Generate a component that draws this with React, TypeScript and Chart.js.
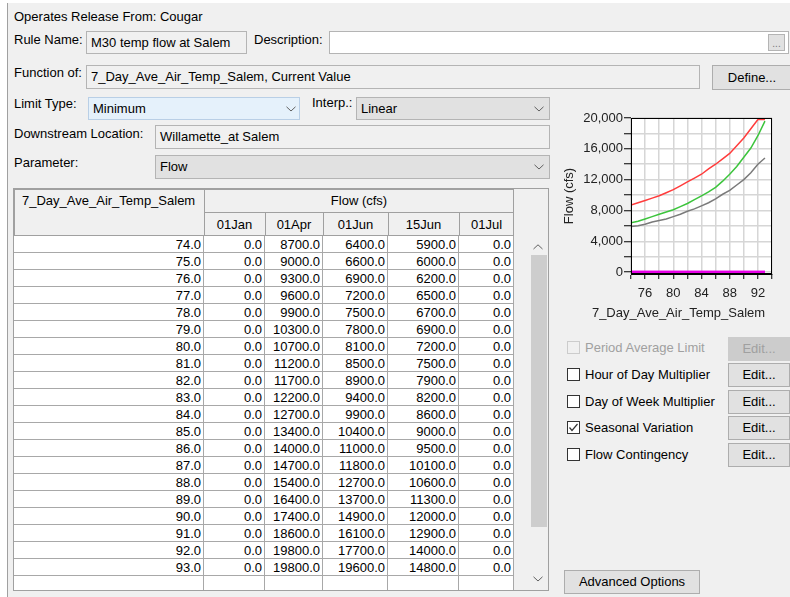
import React, { useEffect, useRef } from "react";
import { Chart, registerables } from "chart.js";
Chart.register(...registerables);

const temps = [74, 75, 76, 77, 78, 79, 80, 81, 82, 83, 84, 85, 86, 87, 88, 89, 90, 91, 92, 93];
const flowJan = [0, 0, 0, 0, 0, 0, 0, 0, 0, 0, 0, 0, 0, 0, 0, 0, 0, 0, 0, 0];
const flowApr = [8700, 9000, 9300, 9600, 9900, 10300, 10700, 11200, 11700, 12200, 12700, 13400, 14000, 14700, 15400, 16400, 17400, 18600, 19800, 19800];
const flowJun1 = [6400, 6600, 6900, 7200, 7500, 7800, 8100, 8500, 8900, 9400, 9900, 10400, 11000, 11800, 12700, 13700, 14900, 16100, 17700, 19600];
const flowJun15 = [5900, 6000, 6200, 6500, 6700, 6900, 7200, 7500, 7900, 8200, 8600, 9000, 9500, 10100, 10600, 11300, 12000, 12900, 14000, 14800];
const flowJul = [0, 0, 0, 0, 0, 0, 0, 0, 0, 0, 0, 0, 0, 0, 0, 0, 0, 0, 0, 0];
const seasonLabels = ["01Jan", "01Apr", "01Jun", "15Jun", "01Jul"];
const xTickValues = [74, 76, 78, 80, 82, 84, 86, 88, 90, 92, 94];
const yTickValues = [0, 2000, 4000, 6000, 8000, 10000, 12000, 14000, 16000, 18000, 20000];
const xAxisTitle = "7_Day_Ave_Air_Temp_Salem";
const yAxisTitle = "Flow (cfs)";

const FONT = "'Liberation Sans', Arial, sans-serif";

function MiniChart() {
  const ref = useRef<HTMLCanvasElement>(null);
  useEffect(() => {
    if (!ref.current) return;
    const font = { family: FONT, size: 13 };
    const mk = (label: string, data: number[], color: string, width: number, order: number) => ({
      label,
      data: temps.map((t, i) => ({ x: t, y: data[i] })),
      borderColor: color,
      backgroundColor: color,
      borderWidth: width,
      pointRadius: 0,
      tension: 0,
      fill: false,
      order,
    });
    const plotBg = {
      id: "plotBg",
      beforeDraw(c: any) {
        const { ctx, chartArea: a } = c;
        ctx.save();
        ctx.fillStyle = "#ffffff";
        ctx.fillRect(a.left, a.top, a.right - a.left, a.bottom - a.top);
        ctx.restore();
      },
    };
    const frame = {
      id: "frame",
      afterDraw(c: any) {
        const { ctx, chartArea: a } = c;
        ctx.save();
        ctx.strokeStyle = "#000";
        ctx.lineWidth = 1;
        ctx.strokeRect(Math.round(a.left) + 0.5, Math.round(a.top) + 0.5, Math.round(a.right - a.left) - 1, Math.round(a.bottom - a.top) - 1);
        ctx.font = `13px ${FONT}`;
        ctx.fillStyle = "#222";
        ctx.textAlign = "center";
        ctx.textBaseline = "middle";
        ctx.fillText(xAxisTitle, c.width / 2 + 6, c.height - 17);
        ctx.restore();
      },
    };
    const chart = new Chart(ref.current, {
      type: "line",
      data: {
        datasets: [
          mk(seasonLabels[0], flowJan, "#e600e6", 2.5, 5),
          mk(seasonLabels[1], flowApr, "#ff3c3c", 1.5, 1),
          mk(seasonLabels[2], flowJun1, "#3cc43c", 1.5, 2),
          mk(seasonLabels[3], flowJun15, "#7a7a7a", 1.5, 3),
          mk(seasonLabels[4], flowJul, "#e600e6", 2.5, 0),
        ],
      },
      options: {
        animation: false,
        responsive: false,
        devicePixelRatio: 1,
        layout: { padding: { top: 13, right: 18, left: 0, bottom: 0 } },
        plugins: { legend: { display: false }, tooltip: { enabled: false } },
        scales: {
          x: {
            type: "linear",
            min: 74,
            max: 94,
            afterBuildTicks: (s: any) => {
              s.ticks = xTickValues.map((v) => ({ value: v }));
            },
            afterFit: (s: any) => {
              s.height = 56;
            },
            ticks: {
              autoSkip: false,
              maxRotation: 0,
              font,
              color: "#222",
              padding: 7,
              callback: (v: any) => (Number(v) % 4 === 0 ? String(v) : ""),
            },
            grid: { color: "#d6d6d6", lineWidth: 1.5, tickLength: 5, tickColor: "#000", tickWidth: 1 },
            border: { color: "#000" },
            title: { display: false },
          },
          y: {
            type: "linear",
            min: -250,
            max: 20000,
            afterBuildTicks: (s: any) => {
              s.ticks = yTickValues.map((v) => ({ value: v }));
            },
            afterFit: (s: any) => {
              s.width = 76;
            },
            ticks: {
              autoSkip: false,
              font,
              color: "#222",
              padding: 1,
              callback: (v: any) => (Number(v) % 4000 === 0 ? Number(v).toLocaleString("en-US") : ""),
            },
            grid: { color: "#d6d6d6", lineWidth: 1.5, tickLength: 7, tickColor: "#000", tickWidth: 1 },
            border: { color: "#000" },
            title: { display: true, text: yAxisTitle, font, color: "#222", padding: { top: 7, bottom: 0 } },
          },
        },
      } as any,
      plugins: [plotBg, frame],
    });
    return () => chart.destroy();
  }, []);
  return <canvas ref={ref} width={235} height={225} style={{ position: "absolute", left: 555, top: 105, width: 235, height: 225 }} />;
}

const Txt = ({ x, cy, children, color = "#000", style = {} }: any) => (
  <div style={{ position: "absolute", left: x, top: cy - 8, height: 16, lineHeight: "16px", whiteSpace: "nowrap", color, ...style }}>{children}</div>
);

const Box = ({ x, y, w, h, bg = "#f0f0f0", border = "#b4b4b4", children, style = {} }: any) => (
  <div style={{ position: "absolute", left: x, top: y, width: w, height: h, boxSizing: "border-box", background: bg, border: `1px solid ${border}`, ...style }}>{children}</div>
);

const Chevron = ({ x, y, up = false }: any) => (
  <svg width={10} height={6} style={{ position: "absolute", left: x, top: y }}>
    <polyline points={up ? "0.5,5 5,0.8 9.5,5" : "0.5,0.8 5,5 9.5,0.8"} fill="none" stroke="#606060" strokeWidth={1} />
  </svg>
);

const Button = ({ x, y, w, h, label, disabled = false }: any) => (
  <div
    style={{
      position: "absolute",
      left: x,
      top: y,
      width: w,
      height: h,
      boxSizing: "border-box",
      background: disabled ? "#cccccc" : "#e1e1e1",
      border: `1px solid ${disabled ? "#cccccc" : "#adadad"}`,
      color: disabled ? "#a0a0a0" : "#000",
      textAlign: "center",
      lineHeight: `${h - 2}px`,
      whiteSpace: "nowrap",
    }}
  >
    {label}
  </div>
);

const CheckRow = ({ cy, label, checked = false, disabled = false }: any) => (
  <>
    <div
      style={{
        position: "absolute",
        left: 567,
        top: cy - 7,
        width: 13,
        height: 13,
        boxSizing: "border-box",
        border: `1px solid ${disabled ? "#cccccc" : "#333"}`,
        background: disabled ? "#f0f0f0" : "#fff",
      }}
    >
      {checked && (
        <svg width={11} height={11} style={{ position: "absolute", left: 0, top: 0 }}>
          <polyline points="1.5,5.5 4,8.5 9.5,2" fill="none" stroke="#333" strokeWidth={1.2} />
        </svg>
      )}
    </div>
    <Txt x={585} cy={cy} color={disabled ? "#a0a0a0" : "#000"}>{label}</Txt>
  </>
);

function Table() {
  const cols = [14, 204, 265, 323, 388, 459, 514];
  const rowTop = 236;
  const rowH = 17;
  const line = "#a8a8a8";
  const els: any[] = [];
  els.push(<Box key="hdr-temp" x={cols[0]} y={189} w={cols[1] - cols[0] + 1} h={47} bg="#f0f0f0" border="#a0a0a0" />);
  els.push(<Txt key="hdr-temp-t" x={22} cy={201}>{xAxisTitle}</Txt>);
  els.push(<Box key="hdr-flow" x={cols[1]} y={189} w={cols[6] - cols[1]} h={24} bg="#f0f0f0" border="#a0a0a0" />);
  els.push(
    <Txt key="hdr-flow-t" x={cols[1]} cy={201} style={{ width: cols[6] - cols[1], textAlign: "center" }}>
      {yAxisTitle}
    </Txt>
  );
  seasonLabels.forEach((s, i) => {
    els.push(<Box key={"hs" + i} x={cols[i + 1]} y={212} w={cols[i + 2] - cols[i + 1] + (i === 4 ? 0 : 1)} h={24} bg="#f0f0f0" border="#a0a0a0" />);
    els.push(
      <Txt key={"hst" + i} x={cols[i + 1]} cy={225} style={{ width: cols[i + 2] - cols[i + 1], textAlign: "center" }}>
        {s}
      </Txt>
    );
  });
  els.push(<div key="data-bg" style={{ position: "absolute", left: cols[0], top: rowTop, width: cols[6] - cols[0], height: 590 - rowTop, background: "#fff" }} />);
  const series = [flowJan, flowApr, flowJun1, flowJun15, flowJul];
  temps.forEach((t, r) => {
    const y = rowTop + r * rowH;
    const cells = [t.toFixed(1), ...series.map((s) => s[r].toFixed(1))];
    cells.forEach((c, ci) => {
      els.push(
        <div
          key={`c${r}-${ci}`}
          style={{
            position: "absolute",
            left: cols[ci],
            top: y,
            width: cols[ci + 1] - cols[ci] - 3,
            height: rowH,
            lineHeight: `${rowH}px`,
            textAlign: "right",
            whiteSpace: "nowrap",
          }}
        >
          {c}
        </div>
      );
    });
    els.push(<div key={"hl" + r} style={{ position: "absolute", left: cols[0], top: y + rowH - 1, width: cols[6] - cols[0], height: 1, background: line }} />);
  });
  cols.slice(1).forEach((x, i) => {
    els.push(<div key={"vl" + i} style={{ position: "absolute", left: x - 1, top: rowTop, width: 1, height: 590 - rowTop, background: line }} />);
  });
  return <>{els}</>;
}

export default function App() {
  return (
    <div
      style={{
        position: "fixed",
        left: 0,
        top: 0,
        width: 790,
        height: 597,
        overflow: "hidden",
        background: "#ffffff",
        fontFamily: FONT,
        fontSize: 13,
        color: "#000",
      }}
    >
      <div style={{ position: "absolute", left: 7, top: 3, width: 783, height: 594, background: "#f0f0f0", borderLeft: "1px solid #a0a0a0", boxSizing: "border-box" }} />

      <Txt x={14} cy={17}>Operates Release From: Cougar</Txt>

      <Txt x={14} cy={40}>Rule Name:</Txt>
      <Box x={86} y={31} w={161} h={23} bg="#f0f0f0" border="#b4b4b4" />
      <Txt x={91} cy={43}>M30 temp flow at Salem</Txt>
      <Txt x={254} cy={40}>Description:</Txt>
      <Box x={329} y={31} w={460} h={23} bg="#ffffff" border="#b4b4b4" />
      <div style={{ position: "absolute", left: 768, top: 34, width: 17, height: 17, boxSizing: "border-box", background: "#e1e1e1", border: "1px solid #b4b4b4", color: "#777", fontSize: 10, textAlign: "center", lineHeight: "18px" }}>...</div>

      <Txt x={14} cy={73}>Function of:</Txt>
      <Box x={86} y={65} w={614} h={24} bg="#f0f0f0" border="#b4b4b4" />
      <Txt x={91} cy={77}>7_Day_Ave_Air_Temp_Salem, Current Value</Txt>
      <Button x={712} y={65} w={80} h={25} label="Define..." />

      <Txt x={14} cy={104}>Limit Type:</Txt>
      <Box x={88} y={97} w={212} h={23} bg="#e5f1fb" border="#b9cfe6" />
      <Txt x={93} cy={109}>Minimum</Txt>
      <Chevron x={286} y={106} />
      <Txt x={312} cy={103}>Interp.:</Txt>
      <Box x={356} y={97} w={194} h={23} bg="#e1e1e1" border="#b4b4b4" />
      <Txt x={361} cy={109}>Linear</Txt>
      <Chevron x={534} y={106} />

      <Txt x={14} cy={134}>Downstream Location:</Txt>
      <Box x={155} y={125} w={395} h={24} bg="#f0f0f0" border="#b4b4b4" />
      <Txt x={160} cy={137}>Willamette_at Salem</Txt>

      <Txt x={14} cy={163}>Parameter:</Txt>
      <Box x={155} y={155} w={395} h={24} bg="#e1e1e1" border="#b4b4b4" />
      <Txt x={160} cy={167}>Flow</Txt>
      <Chevron x={534} y={164} />

      <Box x={13} y={188} w={536} h={403} bg="#f0f0f0" border="#a0a0a0" />
      <Table />
      <div style={{ position: "absolute", left: 531, top: 236, width: 16, height: 354, background: "#f0f0f0" }} />
      <Chevron x={533} y={244} up />
      <div style={{ position: "absolute", left: 531, top: 255, width: 16, height: 272, background: "#cdcdcd" }} />
      <Chevron x={533} y={576} />

      <MiniChart />

      <CheckRow cy={348} label="Period Average Limit" disabled />
      <Button x={728} y={337} w={62} h={24} label="Edit..." disabled />
      <CheckRow cy={375} label="Hour of Day Multiplier" />
      <Button x={728} y={363} w={62} h={24} label="Edit..." />
      <CheckRow cy={402} label="Day of Week Multiplier" />
      <Button x={728} y={390} w={62} h={24} label="Edit..." />
      <CheckRow cy={428} label="Seasonal Variation" checked />
      <Button x={728} y={416} w={62} h={24} label="Edit..." />
      <CheckRow cy={455} label="Flow Contingency" />
      <Button x={728} y={443} w={62} h={24} label="Edit..." />

      <Button x={564} y={570} w={136} h={24} label="Advanced Options" />
    </div>
  );
}
